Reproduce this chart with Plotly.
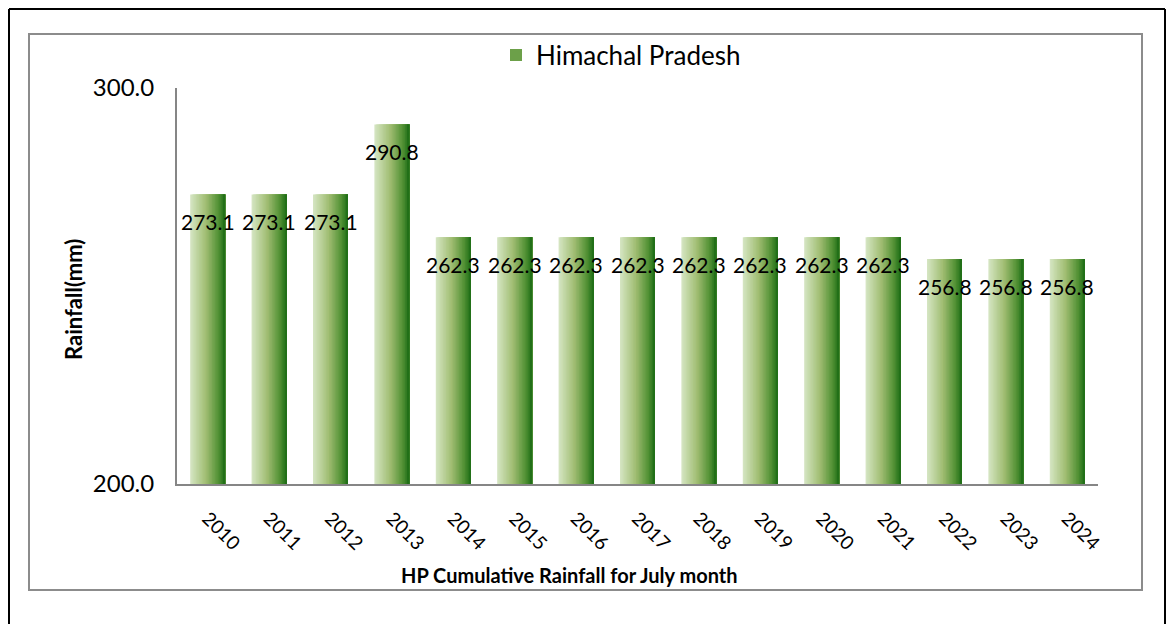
import plotly.graph_objects as go

# ---- data ----
years = ["2010", "2011", "2012", "2013", "2014", "2015", "2016", "2017",
         "2018", "2019", "2020", "2021", "2022", "2023", "2024"]
rainfall = [273.1, 273.1, 273.1, 290.8, 262.3, 262.3, 262.3, 262.3,
            262.3, 262.3, 262.3, 262.3, 256.8, 256.8, 256.8]
series_name = "Himachal Pradesh"
x_title = "HP Cumulative Rainfall for July month"
y_title = "Rainfall(mm)"
y_ticks = [200, 300]

# ---- styling ----
FONT = "Lato, Carlito, Calibri, sans-serif"
WIN_W, WIN_H = 1174, 632
OFF = 8                      # page body margin
W, H = WIN_W - 2 * OFF, WIN_H - 2 * OFF
PL, PT, PW, PH = 177, 88, 921, 396   # plot area in window pixels
ML, MT = PL - OFF, PT - OFF
MR, MB = W - ML - PW, H - MT - PH

BAR_W = 0.57
N_STRIPS = 24
stops = [(0.0, (214, 230, 196)), (0.45, (160, 189, 114)),
         (0.8, (84, 146, 54)), (1.0, (28, 108, 20))]


def grad(t):
    for (t0, c0), (t1, c1) in zip(stops[:-1], stops[1:]):
        if t <= t1:
            f = (t - t0) / (t1 - t0) if t1 > t0 else 0
            return "rgb(%d,%d,%d)" % tuple(round(a + (b - a) * f) for a, b in zip(c0, c1))
    return "rgb(%d,%d,%d)" % stops[-1][1]


fig = go.Figure()
sw = BAR_W / N_STRIPS
legend_idx = int(N_STRIPS * 0.7)
for i in range(N_STRIPS):
    t = (i + 0.5) / N_STRIPS
    fig.add_trace(go.Bar(
        x=years, y=rainfall, width=BAR_W - i * sw, offset=-BAR_W / 2 + i * sw,
        marker=dict(color=grad(t), line=dict(width=0)),
        name=series_name, showlegend=(i == legend_idx),
        hoverinfo="x+y",
    ))

# data labels (category index positions)
for idx, v in enumerate(rainfall):
    fig.add_annotation(x=idx, y=v, xref="x", yref="y", text="%.1f" % v,
                       showarrow=False, yshift=-27,
                       font=dict(family=FONT, size=21, color="#000000"))


def px_x(p):
    return (p - PL) / PW


def px_y(p):
    return (PT + PH - p) / PH


# axis titles
fig.add_annotation(x=px_x(569), y=px_y(575), xref="paper", yref="paper",
                   text="<b>%s</b>" % x_title, showarrow=False,
                   xanchor="center", yanchor="middle",
                   font=dict(family=FONT, size=20, color="#000000"))
fig.add_annotation(x=px_x(73), y=px_y(300), xref="paper", yref="paper",
                   text="<b>%s</b>" % y_title, showarrow=False, textangle=-90,
                   xanchor="center", yanchor="middle",
                   font=dict(family=FONT, size=22, color="#000000"))

shapes = [
    # outer black frame (left, top, right)
    dict(type="line", xref="paper", yref="paper",
         x0=px_x(9), x1=px_x(9), y0=px_y(WIN_H + 10), y1=px_y(9),
         line=dict(color="black", width=2)),
    dict(type="line", xref="paper", yref="paper",
         x0=px_x(9), x1=px_x(WIN_W - OFF - 1), y0=px_y(9), y1=px_y(9),
         line=dict(color="black", width=2)),
    dict(type="line", xref="paper", yref="paper",
         x0=px_x(WIN_W - OFF - 1), x1=px_x(WIN_W - OFF - 1), y0=px_y(WIN_H + 10), y1=px_y(9),
         line=dict(color="black", width=2)),
    # gray chart frame
    dict(type="rect", xref="paper", yref="paper",
         x0=px_x(29), x1=px_x(1142), y0=px_y(590), y1=px_y(34),
         line=dict(color="#8c8c8c", width=2), fillcolor="rgba(0,0,0,0)", layer="below"),
]

fig.update_layout(
    width=W, height=H,
    margin=dict(l=ML, r=MR, t=MT, b=MB, autoexpand=False),
    paper_bgcolor="white", plot_bgcolor="white",
    barmode="overlay",
    font=dict(family=FONT, color="#000000"),
    showlegend=True,
    legend=dict(orientation="h", x=px_x(621), xanchor="center",
                y=px_y(55), yanchor="middle",
                font=dict(family=FONT, size=26, color="#000000"),
                bgcolor="rgba(0,0,0,0)"),
    shapes=shapes,
    xaxis=dict(
        type="category", range=[-0.5, len(years) - 0.5], tickangle=45, showgrid=False,
        showline=True, linecolor="#868686", linewidth=2,
        ticks="", ticklabelstandoff=14,
        tickfont=dict(family=FONT, size=19, color="#000000"),
        automargin=False,
    ),
    yaxis=dict(
        range=[200, 300], tickvals=y_ticks, tickformat=".1f",
        showgrid=True, gridcolor="#868686", gridwidth=2,
        showline=True, linecolor="#868686", linewidth=2,
        zeroline=False, ticks="", ticklabelstandoff=16,
        tickfont=dict(family=FONT, size=24, color="#000000"),
        automargin=False,
    ),
)

fig.write_html("out.html")
